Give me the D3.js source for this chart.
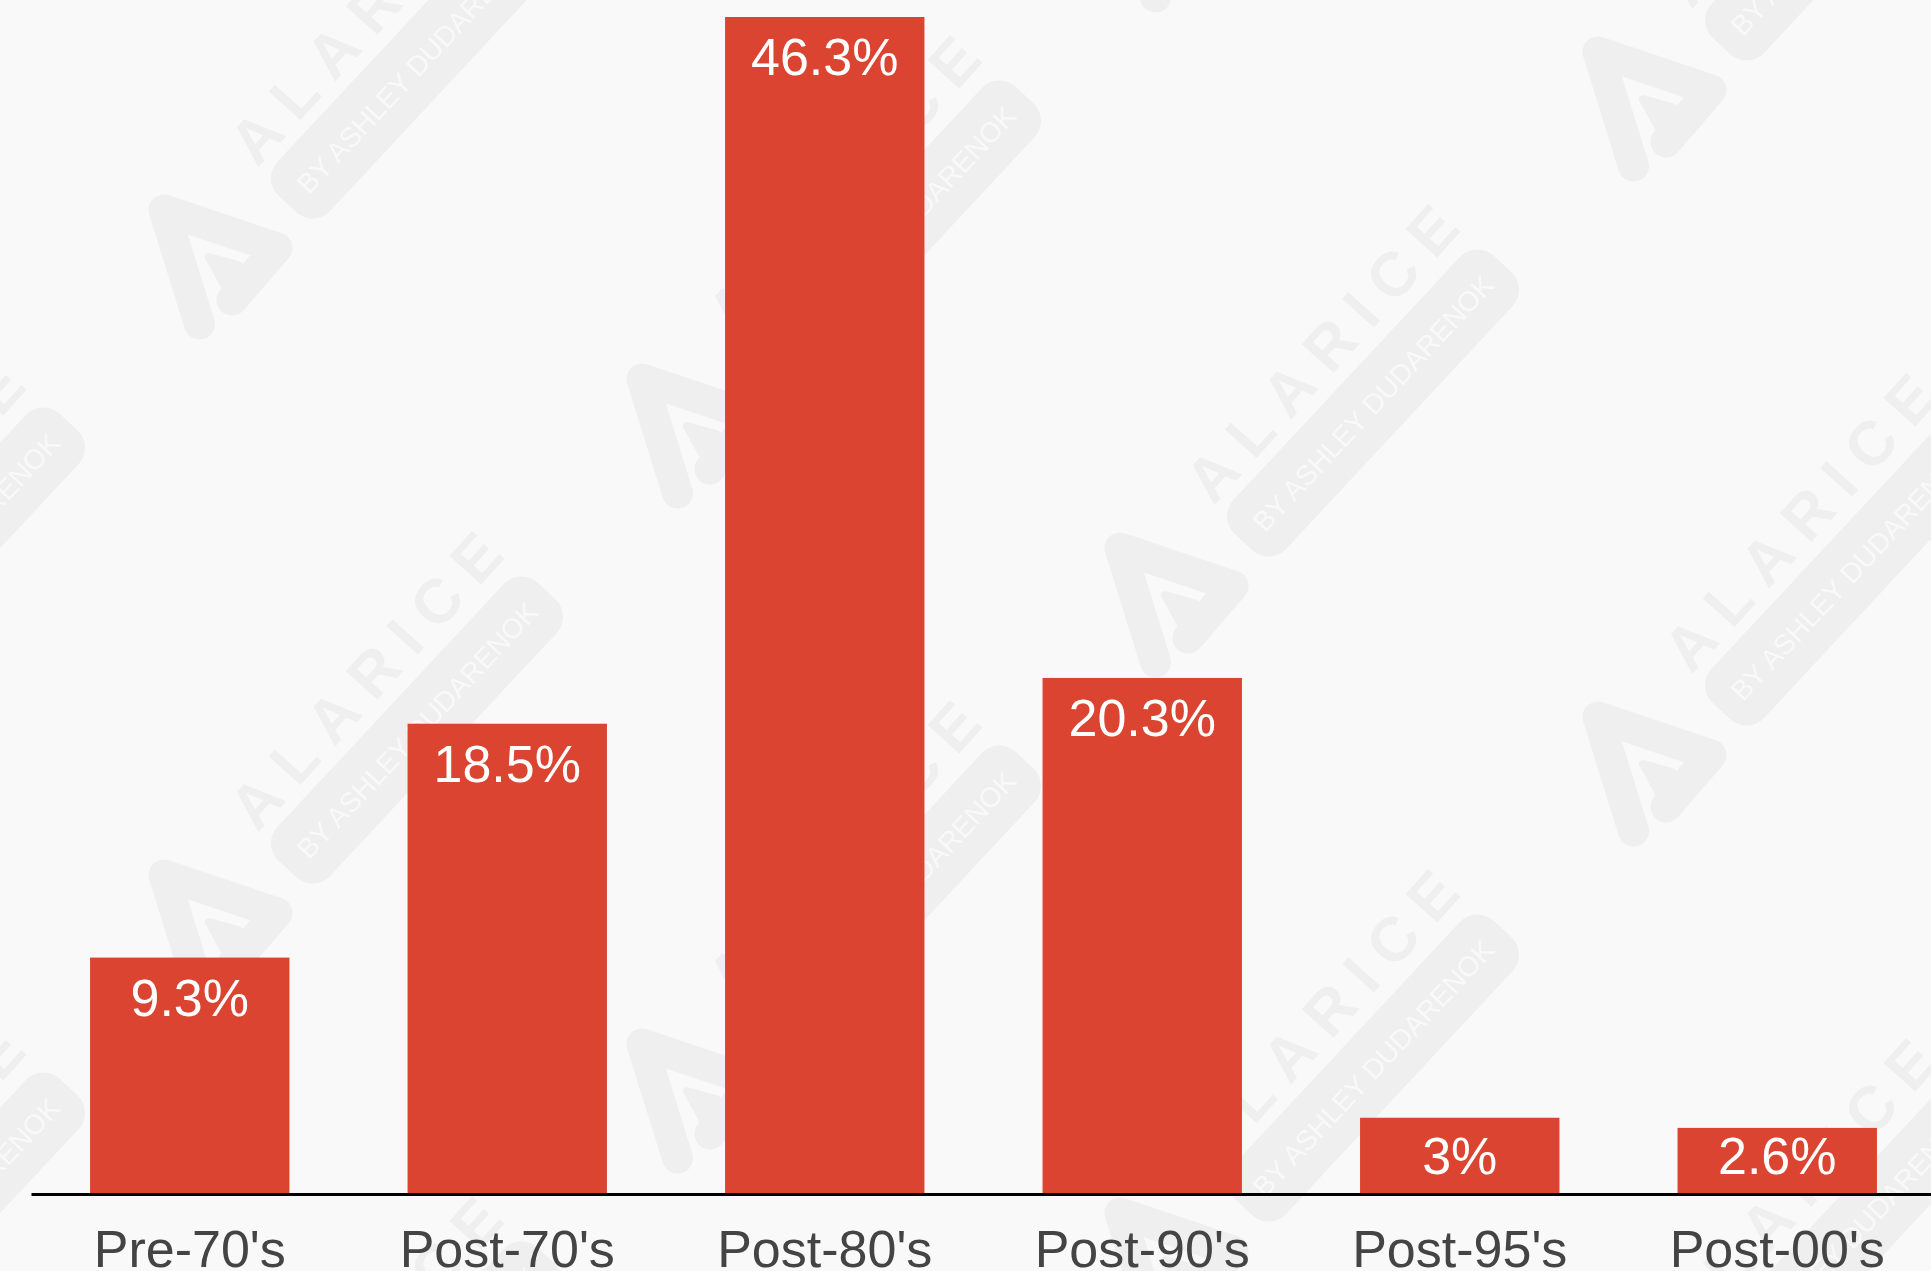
<!DOCTYPE html>
<html>
<head>
<meta charset="utf-8">
<script src="https://cdn.jsdelivr.net/npm/d3@7"></script>
<style>
  html, body { margin: 0; padding: 0; background: #f9f9f9; }
  svg { display: block; }
</style>
</head>
<body>
<svg id="chart" width="1931" height="1271"></svg>
<script>
// Share of respondents by generation
const categories = ["Pre-70's", "Post-70's", "Post-80's", "Post-90's", "Post-95's", "Post-00's"];
const values = [9.3, 18.5, 46.3, 20.3, 3, 2.6];

const W = 1931, H = 1271;
const axisY = 1194;
const barColor = "#db4430";

const svg = d3.select("#chart");

svg.append("rect").attr("width", W).attr("height", H).attr("fill", "#f9f9f9");

// Repeating brand watermark behind the chart
const wm = svg.append("g").attr("class", "watermark");
const tiles = [];
for (let i = -1; i <= 4; i++) {
  for (let j = -2; j <= 3; j++) {
    const tx = 215 + i * 478, ty = 265 + i * 169 + j * 665;
    if (tx > -450 && tx < W + 200 && ty > -450 && ty < H + 350) tiles.push([tx, ty]);
  }
}
const wmFill = "#efefef";
const tile = wm.selectAll("g.tile").data(tiles).join("g")
  .attr("class", "tile")
  .attr("transform", d => `translate(${d[0]},${d[1]})`);

// logo: open triangle stroke spiralling into a small filled triangle
const logo = tile.append("g").attr("transform", "translate(3,7)");
logo.append("path")
  .attr("d", "M-18.5,52 L-54,-62 L59,-24 L14,28")
  .attr("fill", "none").attr("stroke", wmFill)
  .attr("stroke-width", 31).attr("stroke-linejoin", "round").attr("stroke-linecap", "round");
logo.append("path")
  .attr("d", "M-9,-15 L20,-7 L8,16 Z")
  .attr("fill", wmFill).attr("stroke", wmFill)
  .attr("stroke-width", 8).attr("stroke-linejoin", "round");

tile.append("text")
  .attr("transform", "translate(150,-250) rotate(-48)")
  .attr("text-anchor", "middle").attr("dy", "0.36em")
  .attr("textLength", 372).attr("lengthAdjust", "spacing")
  .attr("font-family", "Liberation Sans, Arial, sans-serif")
  .attr("font-weight", "bold").attr("font-size", 62)
  .attr("fill", wmFill)
  .text("ALARICE");

const badge = tile.append("g").attr("transform", "translate(202,-200) rotate(-47)");
badge.append("rect")
  .attr("x", -190).attr("y", -36).attr("width", 380).attr("height", 72)
  .attr("rx", 24).attr("fill", wmFill);
badge.append("text")
  .attr("text-anchor", "middle").attr("dy", "0.36em")
  .attr("textLength", 338).attr("lengthAdjust", "spacing")
  .attr("font-family", "Liberation Sans, Arial, sans-serif")
  .attr("font-size", 28)
  .attr("fill", "#f9f9f9")
  .text("BY ASHLEY DUDARENOK");

// Scales
const x = d3.scaleBand()
  .domain(categories)
  .range([31, 1936])
  .paddingInner(0.372)
  .paddingOuter(0.186);

const y = d3.scaleLinear()
  .domain([0, d3.max(values)])
  .range([axisY, 17]);

const data = categories.map((c, i) => ({ c, v: values[i] }));

// Bars
svg.append("g").selectAll("rect").data(data).join("rect")
  .attr("x", d => x(d.c))
  .attr("y", d => y(d.v))
  .attr("width", x.bandwidth())
  .attr("height", d => axisY - y(d.v))
  .attr("fill", barColor);

// Value labels inside the top of each bar, kept clear of the baseline
const labelFloor = axisY - 20;
svg.append("g").selectAll("text").data(data).join("text")
  .attr("x", d => x(d.c) + x.bandwidth() / 2)
  .attr("y", d => Math.min(y(d.v) + 58, labelFloor))
  .attr("text-anchor", "middle")
  .attr("font-family", "Liberation Sans, Arial, Helvetica, sans-serif")
  .attr("font-size", 52)
  .attr("fill", "#ffffff")
  .text(d => `${d.v}%`);

// Category axis
const axis = svg.append("g")
  .attr("transform", `translate(0,${axisY})`)
  .call(d3.axisBottom(x).tickSize(0).tickSizeOuter(0).tickPadding(36));
axis.select(".domain").attr("stroke", "#000").attr("stroke-width", 3);
axis.selectAll(".tick text")
  .attr("font-family", "Liberation Sans, Arial, Helvetica, sans-serif")
  .attr("font-size", 52)
  .attr("fill", "#444444");
</script>
</body>
</html>
